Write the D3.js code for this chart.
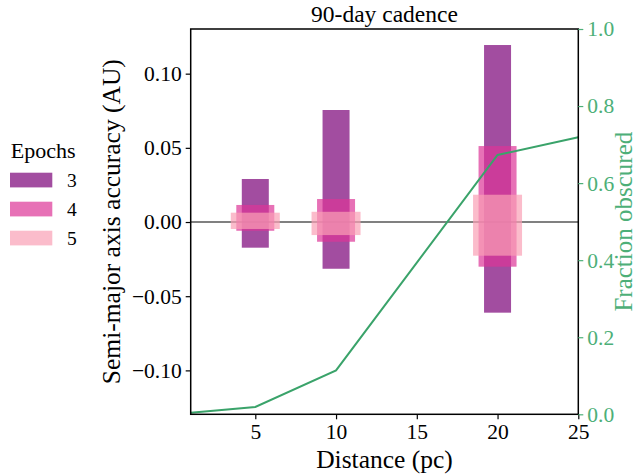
<!DOCTYPE html>
<html><head><meta charset="utf-8">
<script src="https://cdn.jsdelivr.net/npm/d3@7"></script>
<style>body{margin:0;background:#fff}svg{display:block}</style>
</head><body>
<script>
// ---- data ----
const distances = [5, 10, 20];
const epochLabels = ["3", "4", "5"];
const epoch3Low  = [-0.0173, -0.0315, -0.0611];
const epoch3High = [ 0.0290,  0.0755,  0.1193];
const epoch4Low  = [-0.0059, -0.0133, -0.0301];
const epoch4High = [ 0.0115,  0.0155,  0.0512];
const epoch5Low  = [-0.0047, -0.0088, -0.0227];
const epoch5High = [ 0.0063,  0.0069,  0.0184];
const fracDistances = [1, 5, 10, 20, 25];
const fracObscured  = [0.004, 0.019, 0.114, 0.673, 0.719];
const xTicks = [5, 10, 15, 20, 25];
const yTicks = [-0.10, -0.05, 0.00, 0.05, 0.10];
const y2Ticks = [0, 0.2, 0.4, 0.6, 0.8, 1.0];
const titleText = "90-day cadence";

// ---- layout ----
const W = 638, H = 474;
const L = 190.7, R = 578.3, T = 29, B = 414.3;
const colors = ["#7a0177", "#dd3497", "#fa9fb5"];
const barW = [27, 38, 49];
const green = "#3aa36a", greenText = "#4daf78";
const FONT = "'Liberation Serif', 'Times New Roman', Tinos, 'DejaVu Serif', serif";

const svg = d3.select("body").append("svg").attr("width", W).attr("height", H)
  .style("font-family", FONT);
const x = d3.scaleLinear().domain([1, 25]).range([L, R]);
const y = d3.scaleLinear().domain([-0.1296, 0.1301]).range([B, T]);
const y2 = d3.scaleLinear().domain([0, 1]).range([B, T]);

// zero line
svg.append("line").attr("x1", L).attr("x2", R).attr("y1", y(0)).attr("y2", y(0))
  .attr("stroke", "#808080").attr("stroke-width", 2);

// bars
const series = [[epoch3Low, epoch3High], [epoch4Low, epoch4High], [epoch5Low, epoch5High]];
series.forEach((s, k) => {
  svg.append("g").selectAll("rect").data(distances).join("rect")
    .attr("x", (d) => x(d) - barW[k] / 2)
    .attr("width", barW[k])
    .attr("y", (d, i) => y(s[1][i]))
    .attr("height", (d, i) => y(s[0][i]) - y(s[1][i]))
    .attr("fill", colors[k]).attr("fill-opacity", 0.7);
});

// fraction line
svg.append("path").datum(fracDistances.map((d, i) => [d, fracObscured[i]]))
  .attr("d", d3.line().x(d => x(d[0])).y(d => y2(d[1])))
  .attr("fill", "none").attr("stroke", green).attr("stroke-width", 2);

// frame
svg.append("rect").attr("x", L).attr("y", T).attr("width", R - L).attr("height", B - T)
  .attr("fill", "none").attr("stroke", "#000").attr("stroke-width", 1.5);

// axes
const fmtY = v => (v < 0 ? "\u2212" : "") + d3.format(".2f")(Math.abs(v));
const gL = svg.append("g").attr("transform", `translate(${L},0)`)
  .call(d3.axisLeft(y).tickValues(yTicks).tickFormat(fmtY).tickSize(5).tickPadding(4));
const gB = svg.append("g").attr("transform", `translate(0,${B})`)
  .call(d3.axisBottom(x).tickValues(xTicks).tickFormat(d3.format("d")).tickSize(5).tickPadding(4));
const gR = svg.append("g").attr("transform", `translate(${R},0)`)
  .call(d3.axisRight(y2).tickValues(y2Ticks).tickFormat(d3.format(".1f")).tickSize(5).tickPadding(4));
[gL, gB, gR].forEach(g => {
  g.attr("font-family", null).style("font-family", FONT);
  g.select(".domain").remove();
  g.selectAll("text").attr("font-size", 21.5).style("font-family", FONT);
  g.selectAll("line").attr("stroke-width", 1.2);
});
gR.selectAll("line").attr("stroke", greenText);
gR.selectAll("text").attr("fill", greenText);

// labels
svg.append("text").attr("x", (L + R) / 2).attr("y", 21.5).attr("text-anchor", "middle")
  .attr("font-size", 23.5).text(titleText);
svg.append("text").attr("x", (L + R) / 2).attr("y", 468).attr("text-anchor", "middle")
  .attr("font-size", 25.5).text("Distance (pc)");
svg.append("text").attr("transform", `translate(120,${(T + B) / 2}) rotate(-90)`)
  .attr("text-anchor", "middle").attr("font-size", 25.5).text("Semi-major axis accuracy (AU)");
svg.append("text").attr("transform", `translate(632,${(T + B) / 2}) rotate(-90)`)
  .attr("text-anchor", "middle").attr("font-size", 25).attr("fill", greenText).text("Fraction obscured");

// legend
svg.append("text").attr("x", 10.7).attr("y", 158.3).attr("font-size", 22).text("Epochs");
const legY = [172.7, 201.7, 230.7];
epochLabels.forEach((lab, k) => {
  svg.append("rect").attr("x", 10).attr("y", legY[k]).attr("width", 42.3).attr("height", 14.7)
    .attr("fill", colors[k]).attr("fill-opacity", 0.7);
  svg.append("text").attr("x", 67).attr("y", legY[k] + 14).attr("font-size", 19.5).text(lab);
});
</script>
</body></html>
